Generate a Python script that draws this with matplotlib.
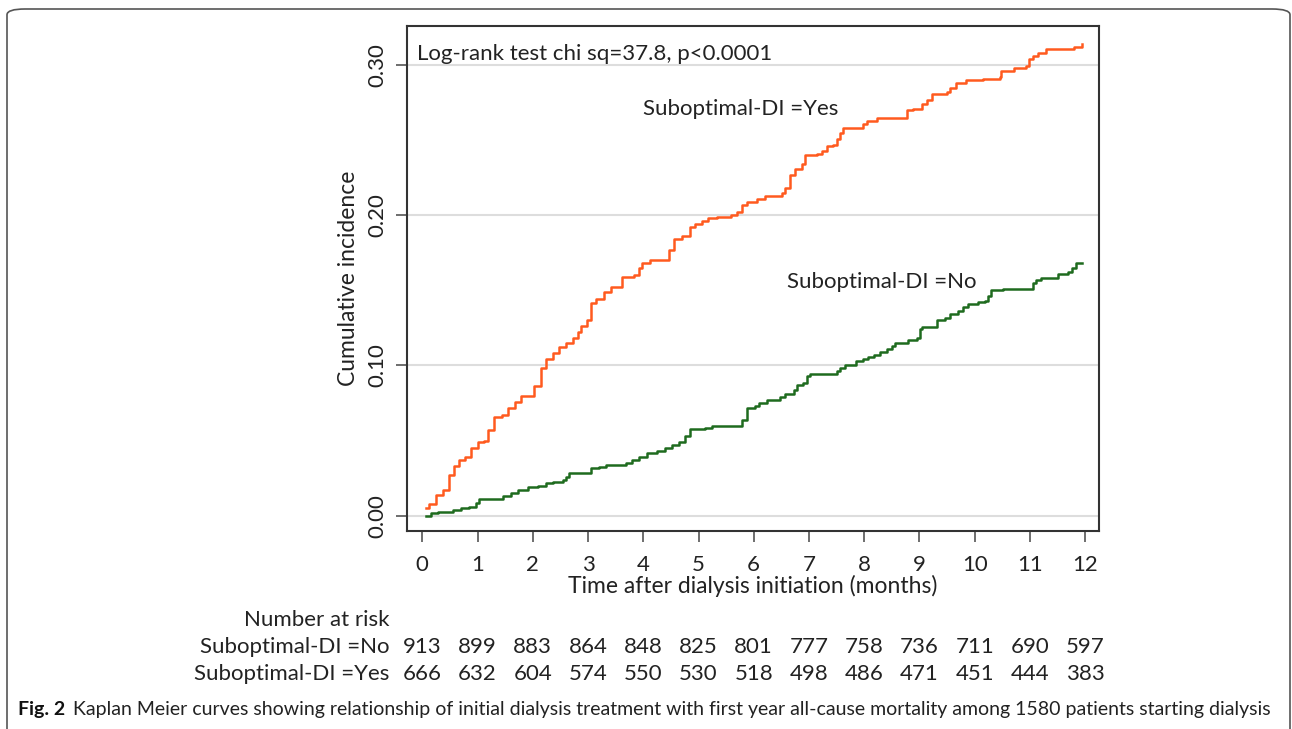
import numpy as np
import matplotlib
matplotlib.use('Agg')
import matplotlib.pyplot as plt
from matplotlib.patches import FancyBboxPatch
from matplotlib.transforms import blended_transform_factory

plt.rcParams['font.family'] = ['Lato', 'DejaVu Sans']

# Suboptimal-DI = Yes (orange), step times (months) and cumulative incidence
t_yes = [0.07, 0.13, 0.25, 0.37, 0.49, 0.58, 0.67, 0.78, 0.88, 1.00, 1.12, 1.19, 1.30,
         1.45, 1.55, 1.67, 1.79, 2.03, 2.15, 2.24, 2.36, 2.48, 2.60, 2.72, 2.81,
         2.87, 2.99, 3.05, 3.14, 3.29, 3.41, 3.62, 3.83, 3.92, 3.98, 4.13, 4.46,
         4.55, 4.70, 4.85, 4.94, 5.06, 5.18, 5.33, 5.58, 5.70, 5.79, 5.88, 6.06,
         6.21, 6.51, 6.57, 6.66, 6.75, 6.87, 6.93, 7.14, 7.23, 7.32, 7.44, 7.50,
         7.56, 7.62, 7.98, 8.05, 8.23, 8.77, 8.89, 9.04, 9.13, 9.22, 9.49, 9.55,
         9.67, 9.85, 10.15, 10.45, 10.48, 10.72, 10.93, 10.99, 11.05, 11.14, 11.29,
         11.80, 11.95]
ci_yes = [0.0049, 0.0078, 0.0138, 0.017, 0.027, 0.033, 0.037, 0.039, 0.045, 0.049,
          0.050, 0.057, 0.066, 0.067, 0.072, 0.076, 0.080, 0.086, 0.098, 0.104,
          0.108, 0.112, 0.115, 0.118, 0.122, 0.126, 0.130, 0.1416, 0.144, 0.149,
          0.152, 0.159, 0.160, 0.165, 0.168, 0.170, 0.177, 0.184, 0.186, 0.192,
          0.194, 0.196, 0.198, 0.199, 0.200, 0.202, 0.207, 0.209, 0.2107, 0.213,
          0.215, 0.218, 0.227, 0.231, 0.234, 0.240, 0.241, 0.243, 0.246, 0.247,
          0.251, 0.255, 0.258, 0.261, 0.263, 0.265, 0.270, 0.271, 0.274, 0.277,
          0.281, 0.282, 0.285, 0.288, 0.290, 0.291, 0.292, 0.296, 0.298, 0.2996,
          0.304, 0.306, 0.308, 0.311, 0.312, 0.314]

# Suboptimal-DI = No (green)
t_no = [0.07, 0.16, 0.28, 0.46, 0.55, 0.70, 0.85, 0.97, 1.03, 1.46, 1.61, 1.73, 1.91,
        2.09, 2.24, 2.36, 2.54, 2.60, 2.66, 3.05, 3.20, 3.32, 3.68, 3.80, 3.92,
        4.07, 4.25, 4.40, 4.52, 4.64, 4.76, 4.85, 5.12, 5.24, 5.79, 5.88, 6.03,
        6.09, 6.24, 6.48, 6.57, 6.72, 6.78, 6.90, 6.96, 7.02, 7.50, 7.56, 7.65,
        7.86, 7.98, 8.07, 8.17, 8.29, 8.41, 8.50, 8.56, 8.80, 8.95, 9.01, 9.04,
        9.31, 9.46, 9.55, 9.70, 9.79, 9.88, 10.06, 10.18, 10.24, 10.30, 10.51,
        11.05, 11.11, 11.20, 11.50, 11.68, 11.77, 11.83, 11.95]
ci_no = [0.0, 0.0016, 0.0022, 0.0027, 0.0038, 0.0049, 0.006, 0.0082, 0.011, 0.013,
         0.0149, 0.017, 0.019, 0.020, 0.022, 0.0227, 0.024, 0.026, 0.0287, 0.0316,
         0.0327, 0.034, 0.035, 0.037, 0.039, 0.0416, 0.043, 0.045, 0.047, 0.049,
         0.053, 0.058, 0.0587, 0.060, 0.064, 0.0716, 0.073, 0.0753, 0.077, 0.079,
         0.081, 0.084, 0.087, 0.088, 0.0927, 0.094, 0.096, 0.098, 0.100, 0.1027,
         0.104, 0.1056, 0.107, 0.109, 0.111, 0.113, 0.115, 0.117, 0.118, 0.124,
         0.1256, 0.130, 0.1316, 0.134, 0.136, 0.139, 0.141, 0.142, 0.1427, 0.146,
         0.150, 0.151, 0.155, 0.157, 0.158, 0.161, 0.162, 0.165, 0.168, 0.168]

months = list(range(13))
risk_no = [913, 899, 883, 864, 848, 825, 801, 777, 758, 736, 711, 690, 597]
risk_yes = [666, 632, 604, 574, 550, 530, 518, 498, 486, 471, 451, 444, 383]
yticks = [0.0, 0.1, 0.2, 0.3]

W, H = 1292, 729
fig = plt.figure(figsize=(W / 100, H / 100), dpi=100)
TXT = '#222222'

# rounded frame around the whole figure
frame = FancyBboxPatch((7 / W, -0.05), (1290 - 7) / W, (H - 9) / H + 0.05,
                       boxstyle='round,pad=0,rounding_size=0.014',
                       transform=fig.transFigure, fill=False,
                       edgecolor='#555555', linewidth=1.2, mutation_aspect=H / W)
fig.patches.append(frame)

ax = fig.add_axes([407 / W, 1 - 531 / H, (1099 - 407) / W, (531 - 26) / H])

ax.plot(t_yes, ci_yes, drawstyle='steps-post', color='#ff5a1f', lw=1.8)
ax.plot(t_no, ci_no, drawstyle='steps-post', color='#1e6b1e', lw=1.8)

ax.set_xlim(-0.277, 12.25)
ax.set_ylim(-0.0102, 0.326)
ax.set_xticks(months)
ax.set_yticks(yticks)
ax.set_yticklabels(['0.00', '0.10', '0.20', '0.30'], rotation=90, va='center')
for y in yticks:
    ax.axhline(y, color='#dddddd', lw=1.5, zorder=0)

for s in ax.spines.values():
    s.set_color('#333333')
    s.set_linewidth(1.5)
ax.tick_params(axis='both', direction='out', length=8, width=1.2, color='#555555',
               labelsize=16, labelcolor=TXT)
ax.tick_params(axis='x', pad=9)
ax.tick_params(axis='y', pad=6)

ax.set_xlabel('Time after dialysis initiation (months)', fontsize=16.5, color=TXT,
              labelpad=0)
ax.set_ylabel('Cumulative incidence', fontsize=16.5, color=TXT, labelpad=6)

ax.text(0.015, 0.965, 'Log-rank test chi sq=37.8, p<0.0001', transform=ax.transAxes,
        fontsize=16, va='top', ha='left', color=TXT)
ax.text(4.0, 0.271, 'Suboptimal-DI =Yes', fontsize=16, color=TXT, va='center')
ax.text(6.6, 0.1555, 'Suboptimal-DI =No', fontsize=16, color=TXT, va='center')

# number at risk table
tr = blended_transform_factory(ax.transData, fig.transFigure)
fig.text(389 / W, 1 - 620 / H, 'Number at risk', fontsize=16, ha='right', va='center',
         color=TXT)
fig.text(389 / W, 1 - 647 / H, 'Suboptimal-DI =No', fontsize=16, ha='right', va='center',
         color=TXT)
fig.text(389 / W, 1 - 674 / H, 'Suboptimal-DI =Yes', fontsize=16, ha='right', va='center',
         color=TXT)
for m, a, b in zip(months, risk_no, risk_yes):
    ax.text(m, 1 - 647 / H, str(a), transform=tr, fontsize=16, ha='center', va='center',
            color=TXT)
    ax.text(m, 1 - 674 / H, str(b), transform=tr, fontsize=16, ha='center', va='center',
            color=TXT)

# caption
t1 = fig.text(18 / W, 1 - 709 / H, 'Fig. 2', fontsize=14, fontweight='bold',
              va='center', ha='left', color='#111111')
ax.annotate('Kaplan Meier curves showing relationship of initial dialysis treatment with '
            'first year all-cause mortality among 1580 patients starting dialysis',
            xy=(1, 0.5), xycoords=t1, xytext=(6, 0), textcoords='offset points',
            va='center', ha='left', fontsize=14, color=TXT,
            annotation_clip=False)

fig.savefig('out.png', dpi=100)
